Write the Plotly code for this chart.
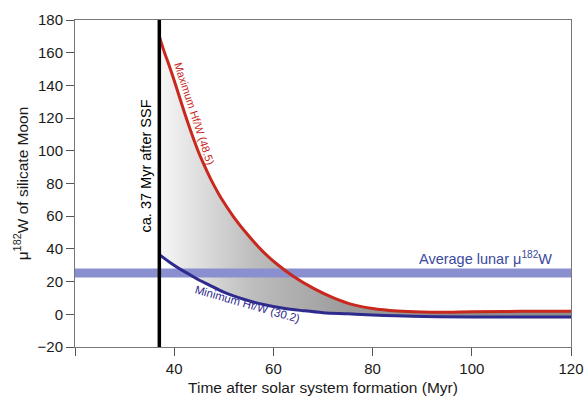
import numpy as np
import plotly.graph_objects as go

# ---- data ----
max_t = [37, 38, 39, 40, 41, 42, 43, 44, 45, 46, 47, 48, 49, 50, 52, 55, 58, 61, 64, 68,
         72, 76, 80, 85, 90, 95, 100, 110, 120]
max_mu = [170, 160.5, 152, 143, 133.5, 124, 115, 106.5, 98.5, 91.5, 85, 79, 73.5, 68.5, 59.5,
          48, 38, 30, 23.3, 16, 10.2, 5.9, 3.5, 2.0, 1.4, 1.3, 1.6, 1.8, 1.8]

min_t = [37, 39, 41, 43, 45, 47, 50, 54, 58, 62, 66, 70, 75, 80, 88, 100, 110, 120]
min_mu = [36.5, 32, 28, 24.5, 21, 18, 13.5, 9.2, 6, 3.7, 2.2, 1.0, 0.3, -0.4, -1.2, -1.6,
          -1.6, -1.6]

band_t = [20, 120]
band_low = [22.5, 22.5]
band_high = [28, 28]

ssf_t = [37, 37]
ssf_mu = [-20, 180]

x_ticks = [20, 40, 60, 80, 100, 120]
x_ticklabels = ["", "40", "60", "80", "100", "120"]
y_ticks = [-20, 0, 20, 40, 60, 80, 100, 120, 140, 160, 180]

FONT = "Liberation Sans, Arial, sans-serif"
RED = "#c8281e"
BLUE = "#2e2a8e"
BAND = "#8a8fcf"

grid = sorted(set(max_t) | set(min_t))
max_i = np.interp(grid, max_t, max_mu)
min_i = np.interp(grid, min_t, min_mu)

fig = go.Figure()

# gray gradient fill between the curves
fig.add_trace(go.Scatter(x=grid, y=min_i, mode="lines", line=dict(width=0),
                         hoverinfo="skip", showlegend=False))
fig.add_trace(go.Scatter(x=grid, y=max_i, mode="lines", line=dict(width=0),
                         fill="tonexty",
                         fillgradient=dict(type="horizontal", start=37, stop=100,
                                           colorscale=[[0, "#f7f7f7"], [0.3, "#bdbdbd"],
                                                       [0.6, "#9c9c9c"], [1, "#8e8e8e"]]),
                         hoverinfo="skip", showlegend=False))

# average lunar band
fig.add_trace(go.Scatter(x=band_t, y=band_low, mode="lines", line=dict(width=0),
                         hoverinfo="skip", showlegend=False))
fig.add_trace(go.Scatter(x=band_t, y=band_high, mode="lines", line=dict(width=0),
                         fill="tonexty", fillcolor=BAND, hoverinfo="skip", showlegend=False))

# curves
fig.add_trace(go.Scatter(x=max_t, y=max_mu, mode="lines",
                         line=dict(color=RED, width=3, shape="spline", smoothing=1),
                         showlegend=False))
fig.add_trace(go.Scatter(x=min_t, y=min_mu, mode="lines",
                         line=dict(color=BLUE, width=3, shape="spline", smoothing=1),
                         showlegend=False))

# 37 Myr line
fig.add_trace(go.Scatter(x=ssf_t, y=ssf_mu, mode="lines",
                         line=dict(color="black", width=3.5), showlegend=False,
                         cliponaxis=False))

fig.update_layout(
    width=584, height=398,
    margin=dict(l=75, r=13, t=20, b=51, autoexpand=False),
    paper_bgcolor="white", plot_bgcolor="white",
    font=dict(family=FONT, size=14, color="#1a1a1a"),
    xaxis=dict(range=[20, 120], tickvals=x_ticks, ticktext=x_ticklabels,
               ticks="outside", ticklen=8, tickcolor="#555", tickwidth=1,
               tickfont=dict(size=15),
               showline=True, linecolor="#777", linewidth=1, mirror=True,
               showgrid=False, zeroline=False, automargin=False,
               title=dict(text="Time after solar system formation (Myr)", standoff=6,
                          font=dict(size=15.5))),
    yaxis=dict(range=[-20, 180], tickvals=y_ticks,
               ticks="outside", ticklen=8, tickcolor="#555", tickwidth=1,
               tickfont=dict(size=15),
               showline=True, linecolor="#777", linewidth=1, mirror=True,
               showgrid=False, zeroline=False, automargin=False,
               title=dict(text="\u03bc<sup>182</sup>W of silicate Moon", standoff=5,
                          font=dict(size=15.5))),
)

fig.add_annotation(x=44.0, y=123, xref="x", yref="y", text="Maximum Hf/W (48.5)",
                   textangle=72, showarrow=False,
                   font=dict(family=FONT, size=11, color=RED))
fig.add_annotation(x=54.7, y=6, xref="x", yref="y", text="Minimum Hf/W (30.2)",
                   textangle=16, showarrow=False,
                   font=dict(family=FONT, size=11.5, color=BLUE))
fig.add_annotation(x=34.3, y=91, xref="x", yref="y", text="ca. 37 Myr after SSF",
                   textangle=-90, showarrow=False,
                   font=dict(family=FONT, size=14.5, color="black"))
fig.add_annotation(x=116.6, y=34.5, xref="x", yref="y",
                   text="Average lunar \u03bc<sup>182</sup>W", xanchor="right",
                   showarrow=False, font=dict(family=FONT, size=14.5, color="#3a4a9c"))

fig.write_html("out.html", config={"displayModeBar": False},
               post_script="document.body.style.margin='0';document.body.style.padding='0';")
